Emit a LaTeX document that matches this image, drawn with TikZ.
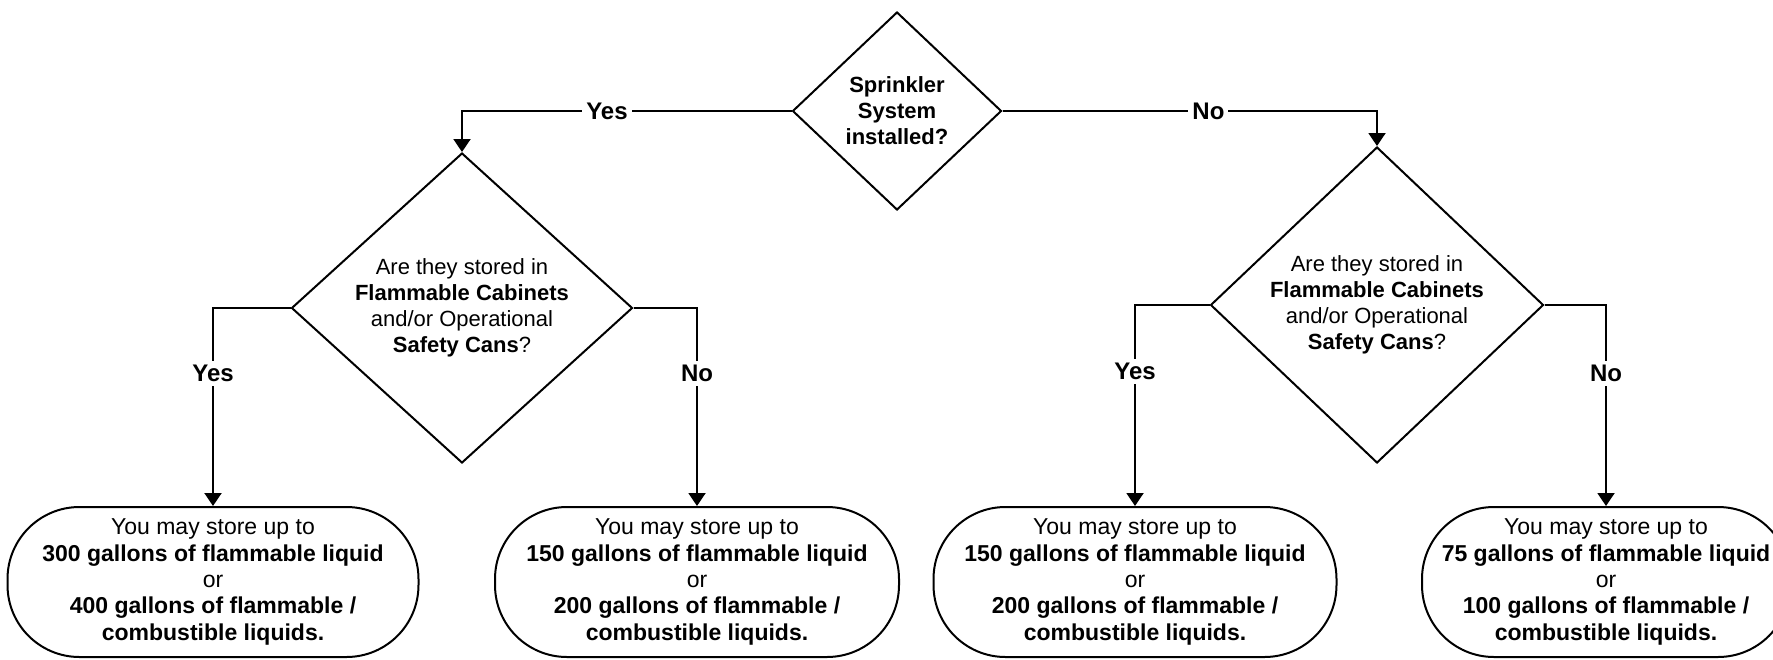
\documentclass[tikz,border=0pt]{standalone}
\usepackage{fontspec}
\setmainfont{Liberation Sans}
\usetikzlibrary{shapes,arrows.meta}
\tikzstyle{decision} = [diamond, draw, line width=1pt, align=center,
    inner sep=0pt, shape aspect=1.1, font=\fontsize{11}{13}\selectfont]
\tikzstyle{result} = [rectangle, draw, line width=1pt, rounded corners=36pt,
    align=center, inner sep=0pt, minimum height=75pt, font=\fontsize{11.5}{13.2}\selectfont]
\tikzstyle{line} = [draw, line width=1pt, -{Triangle[width=8.5pt,length=6.5pt]}]
\tikzstyle{answer} = [fill=white, inner sep=2pt, font=\fontsize{12}{13}\selectfont\bfseries]

\begin{document}
\begin{tikzpicture}[x=0.5pt, y=-0.5pt]
        \useasboundingbox (0,0) rectangle (1773,659);
        % Place nodes
        \node [decision, minimum width=104.5pt, minimum height=99pt,
            font=\fontsize{11}{13}\selectfont\bfseries] (sprinkler) at (897,111)
            {Sprinkler\\System\\installed?};
        \node [decision, minimum width=170.5pt, minimum height=155pt] (cabinetsL) at (462,308)
            {Are they stored in\\\textbf{Flammable Cabinets}\\and/or Operational\\\textbf{Safety Cans}?};
        \node [decision, minimum width=166.5pt, minimum height=158pt] (cabinetsR) at (1377,305)
            {Are they stored in\\\textbf{Flammable Cabinets}\\and/or Operational\\\textbf{Safety Cans}?};
        \node [result, minimum width=205.5pt] (store300) at (213,582)
            {You may store up to\\\textbf{300 gallons of flammable liquid}\\or\\\textbf{400 gallons of flammable /}\\\textbf{combustible liquids.}};
        \node [result, minimum width=202pt] (store150L) at (697,582)
            {You may store up to\\\textbf{150 gallons of flammable liquid}\\or\\\textbf{200 gallons of flammable /}\\\textbf{combustible liquids.}};
        \node [result, minimum width=201.5pt] (store150R) at (1135,582)
            {You may store up to\\\textbf{150 gallons of flammable liquid}\\or\\\textbf{200 gallons of flammable /}\\\textbf{combustible liquids.}};
        \node [result, minimum width=184pt] (store75) at (1606,582)
            {You may store up to\\\textbf{75 gallons of flammable liquid}\\or\\\textbf{100 gallons of flammable /}\\\textbf{combustible liquids.}};
        % Draw edges
        \path [line] (sprinkler.west) -| node [answer, pos=0.28] (yesTop) {Yes} (cabinetsL.north);
        \path [line] (sprinkler.east) -| node [answer, pos=0.275] (noTop) {No} (cabinetsR.north);
        \path [line] (cabinetsL.west) -| node [answer, pos=0.665] (yesL) {Yes} (store300.north);
        \path [line] (cabinetsL.east) -| node [answer, pos=0.665] (noL) {No} (store150L.north);
        \path [line] (cabinetsR.west) -| node [answer, pos=0.665] (yesR) {Yes} (store150R.north);
        \path [line] (cabinetsR.east) -| node [answer, pos=0.67] (noR) {No} (store75.north);
    \end{tikzpicture}
\end{document}
